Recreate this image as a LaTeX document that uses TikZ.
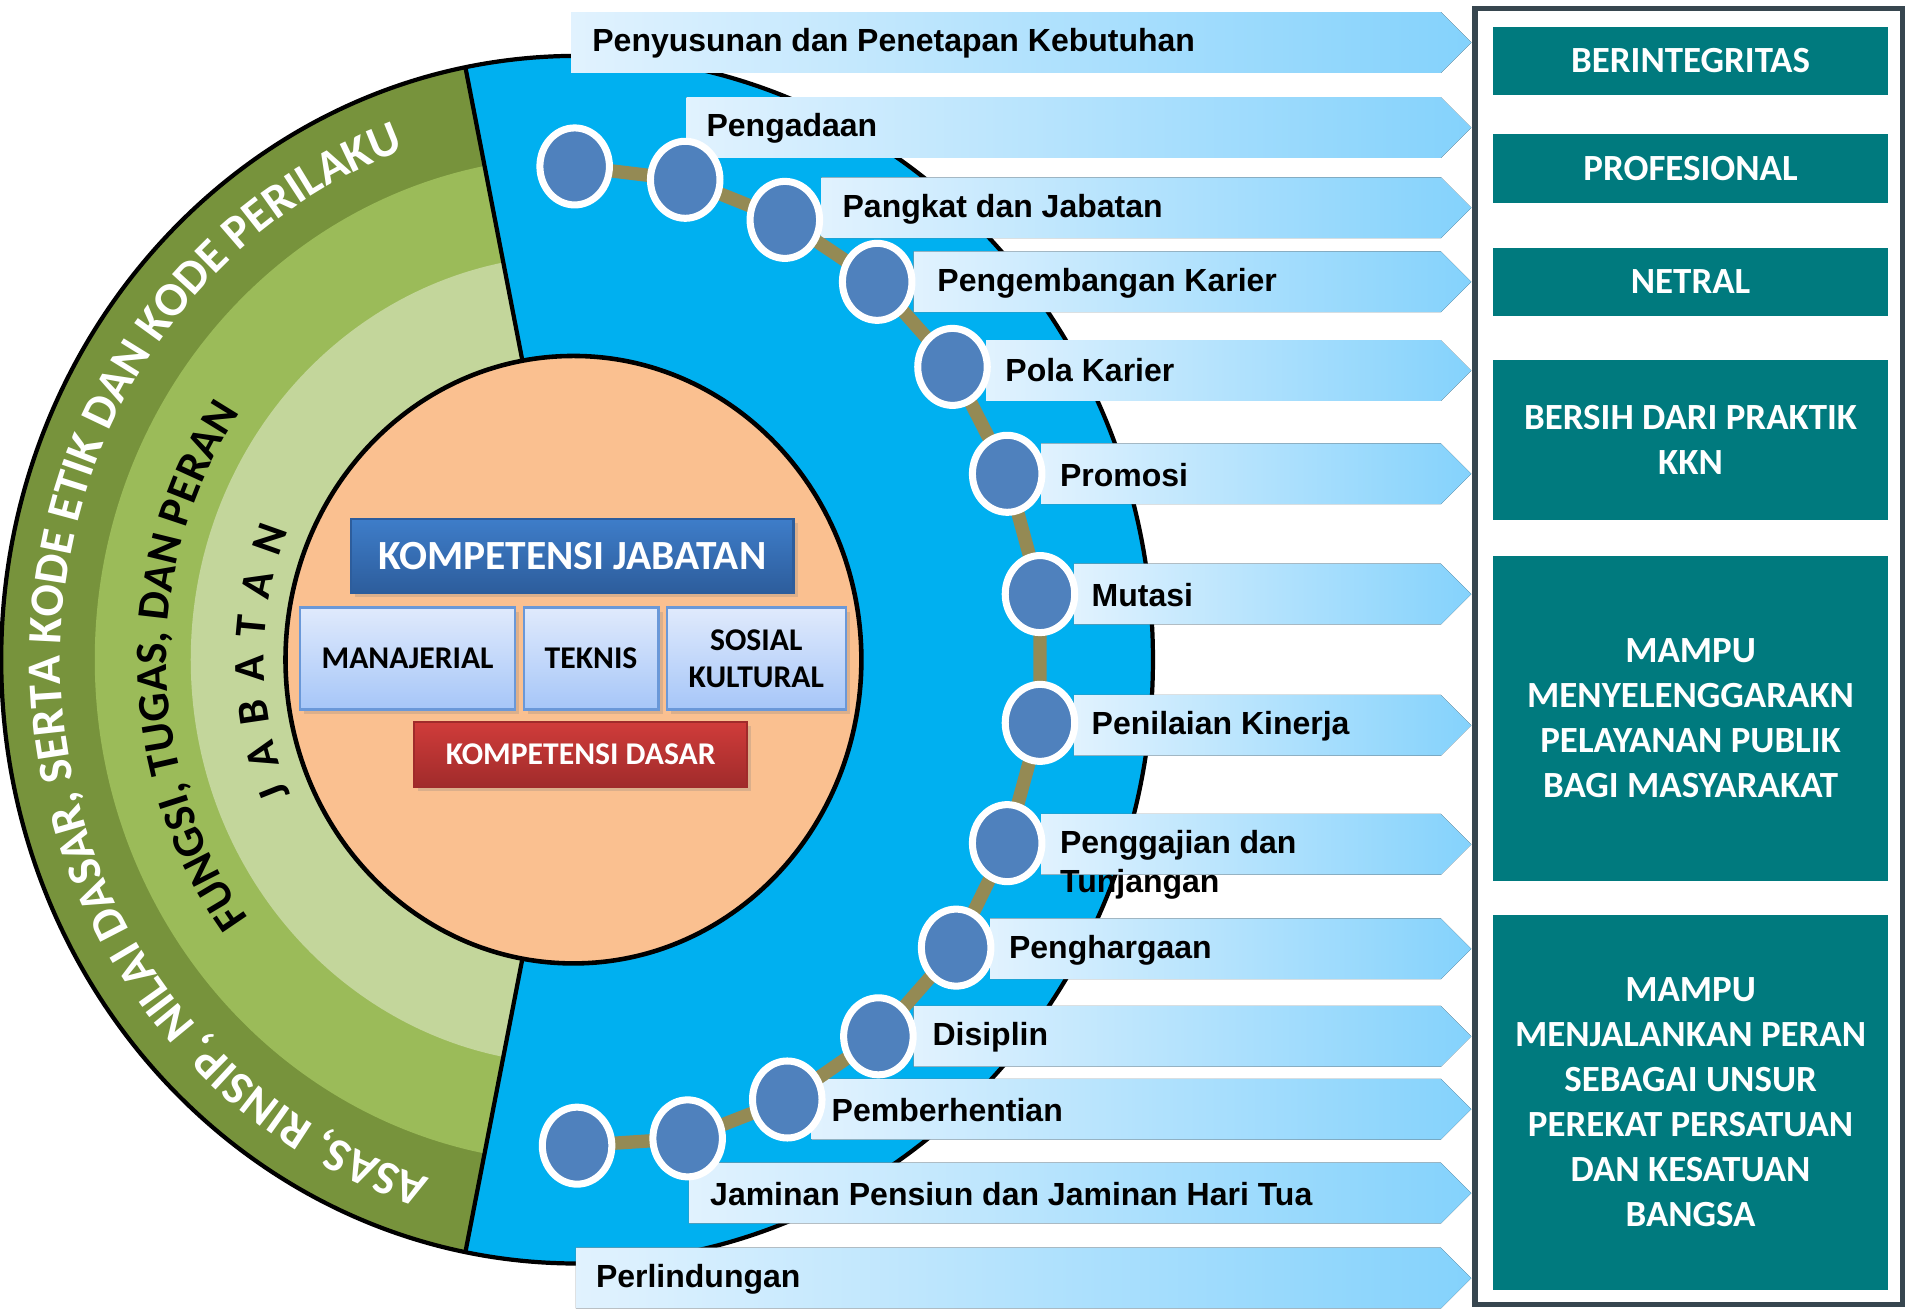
\documentclass[tikz,border=0pt]{standalone}
\usepackage{fontspec}
\setmainfont{Liberation Sans}
\newfontfamily\calib{Carlito}
\usetikzlibrary{shapes.geometric,decorations.text,shadows}

\definecolor{ringdark}{HTML}{77933C}
\definecolor{ringmid}{HTML}{9BBB59}
\definecolor{ringlight}{HTML}{C3D69B}
\definecolor{core}{HTML}{FAC090}
\definecolor{sea}{HTML}{00B0F0}
\definecolor{bead}{HTML}{4F81BD}
\definecolor{chainbrown}{HTML}{948A54}
\definecolor{arrowL}{HTML}{E1F2FE}
\definecolor{arrowR}{HTML}{84D2FC}
\definecolor{valuebox}{HTML}{007A7E}
\definecolor{panel}{HTML}{37464F}
\definecolor{kjtop}{HTML}{3E7DC9}
\definecolor{kjbot}{HTML}{2D5D9C}
\definecolor{subtop}{HTML}{E0EAFC}
\definecolor{subbot}{HTML}{A6C6F8}
\definecolor{subline}{HTML}{6A98D8}
\definecolor{kdtop}{HTML}{D03C3A}
\definecolor{kdbot}{HTML}{A02B2B}

\begin{document}
\begin{tikzpicture}[x=0.01215cm, y=0.01215cm,
    banner/.style={left color=arrowL, right color=arrowR},
    lbl/.style={anchor=west, align=left, inner sep=0pt, font=\bfseries\fontsize{9.1}{11}\selectfont},
    dot/.style={ellipse, fill=bead, draw=white, line width=2pt, minimum width=0.695cm, minimum height=0.77cm, inner sep=0pt},
    chain/.style={draw=chainbrown, line width=3.8pt},
    valbox/.style={fill=valuebox, text=white, align=center, inner sep=0pt, minimum width=3.95cm, font=\calib\bfseries\fontsize{10.5}{12.8}\selectfont},
    boxshadow/.style={drop shadow={opacity=0.25, shadow xshift=1.2pt, shadow yshift=-1.2pt}},
    subbox/.style={top color=subtop, bottom color=subbot, draw=subline, line width=0.6pt, align=center, inner sep=0pt, minimum height=1.02cm, boxshadow, font=\calib\bfseries\fontsize{9}{10.5}\selectfont},
    kjbox/.style={top color=kjtop, bottom color=kjbot, draw=kjbot, line width=0.6pt, text=white, inner sep=0pt, minimum width=4.423cm, minimum height=0.741cm, boxshadow, font=\calib\bfseries\fontsize{11.8}{14}\selectfont},
    kdbox/.style={top color=kdtop, bottom color=kdbot, draw=kdbot, line width=0.6pt, text=white, inner sep=0pt, minimum width=3.329cm, minimum height=0.656cm, boxshadow, font=\calib\bfseries\fontsize{9}{11}\selectfont},
  ]
  \useasboundingbox (0,0) rectangle (1568,1077);
  \fill[white] (0,0) rectangle (1568,1077);

  % blue half and green rings
  \fill[sea] (475,534) ellipse [x radius=474, y radius=497];
  \begin{scope}
    \clip (0,1100) -- (368,1100) -- (430,780) -- (430,288) -- (368,-30) -- (0,-30) -- cycle;
    \fill[ringdark] (475,534) ellipse [x radius=474, y radius=497];
    \fill[ringmid] (475,534) ellipse [x radius=397, y radius=414];
    \fill[ringlight] (475,534) ellipse [x radius=318, y radius=333];
  \end{scope}
  \draw[line width=1.2pt] (383,1022) -- (430,780) (430,288) -- (383,46);
  \draw[line width=1.2pt] (475,534) ellipse [x radius=474, y radius=497];
  \filldraw[fill=core, line width=1.3pt] (472,534) ellipse [x radius=237, y radius=250];

  % ring texts
  \path[decorate, decoration={text along path, text align=center,
      text={|\calib\bfseries\fontsize{13.6}{16}\selectfont\color{white}|ASAS, RINSIP, NILAI DASAR, SERTA KODE ETIK DAN KODE PERILAKU}}]
    (475,534) ++(260:425 and 445) arc [start angle=260, end angle=103, x radius=425, y radius=445];
  \path[decorate, decoration={text along path, text align=center,
      text={|\calib\bfseries\fontsize{12.8}{15}\selectfont|FUNGSI, TUGAS, DAN PERAN}}]
    (475,534) ++(235:338 and 355) arc [start angle=235, end angle=127, x radius=338, y radius=355];
  \path[decorate, decoration={text along path, text align={fit to path},
      text={|\calib\bfseries\fontsize{12.5}{14}\selectfont|J A B A T A N}}]
    (475,534) ++(204:258 and 272) arc [start angle=204, end angle=157, x radius=258, y radius=272];

  % competence boxes
  \node[kjbox] (kj) at (471,619.5) {KOMPETENSI JABATAN};
  \node[subbox, minimum width=2.151cm] (man) at (335.5,535) {MANAJERIAL};
  \node[subbox, minimum width=1.349cm] (tek) at (486.5,535) {TEKNIS};
  \node[subbox, minimum width=1.786cm] (sos) at (622.5,535) {SOSIAL\\KULTURAL};
  \node[kdbox] (kd) at (478,456) {KOMPETENSI DASAR};

  % arrow banners
  \foreach \n/\bx/\by in {1/470/1042, 2/565/972, 3/676/906, 4/752/845, 5/812/772,
      6/857/687, 7/884/588, 8/884/480, 9/857/382, 10/815/296, 11/752/224,
      12/668/164, 13/567/95, 14/474/25}
    \fill[banner] (\bx,\by-25) -- (1186,\by-25) -- (1211,\by) -- (1186,\by+25) -- (\bx,\by+25) -- cycle;

  % chain of beads
  \foreach \i/\x/\y in {1/473/940, 2/564/929, 3/646/896, 4/722/845, 5/784/775,
      6/829/687, 7/856/588, 8/856/482, 9/829/383, 10/787/297, 11/723/224,
      12/648/172, 13/566/140, 14/475/134}
    \coordinate (p\i) at (\x,\y);
  \draw[chain] (p1) \foreach \i in {2,...,14} {-- (p\i)};
  \foreach \i in {1,...,14}
    \node[dot] (c\i) at (p\i) {};

  % banner labels
  \foreach \n/\tx/\ty/\txt in {1/487/1041/{Penyusunan dan Penetapan Kebutuhan},
      2/581/971/{Pengadaan}, 3/693/905/{Pangkat dan Jabatan},
      4/771/844/{Pengembangan Karier}, 5/827/772/{Pola Karier},
      6/872/686/{Promosi}, 7/898/587/{Mutasi}, 8/898/479/{Penilaian Kinerja},
      9/872/365/{Penggajian dan\\Tunjangan}, 10/830/295/{Penghargaan},
      11/767/223/{Disiplin}, 12/684/163/{Pemberhentian},
      13/584/94/{Jaminan Pensiun dan Jaminan Hari Tua}, 14/490/24/{Perlindungan}}
    \node[lbl] (l\n) at (\tx,\ty) {\txt};

  % values panel
  \draw[panel, line width=1.5pt] (1214,3) rectangle (1566,1070);
  \node[valbox, minimum height=0.68cm] (v1) at (1391.5,1027) {BERINTEGRITAS};
  \node[valbox, minimum height=0.693cm] (v2) at (1391.5,938.5) {PROFESIONAL};
  \node[valbox, minimum height=0.68cm] (v3) at (1391.5,845) {NETRAL};
  \node[valbox, minimum height=1.604cm] (v4) at (1391.5,715) {BERSIH DARI PRAKTIK\\KKN};
  \node[valbox, minimum height=3.244cm] (v5) at (1391.5,485.5) {MAMPU\\MENYELENGGARAKN\\PELAYANAN PUBLIK\\BAGI MASYARAKAT};
  \node[valbox, minimum height=3.754cm] (v6) at (1391.5,169.5) {MAMPU\\MENJALANKAN PERAN\\SEBAGAI UNSUR\\PEREKAT PERSATUAN\\DAN KESATUAN\\BANGSA};
\end{tikzpicture}
\end{document}
